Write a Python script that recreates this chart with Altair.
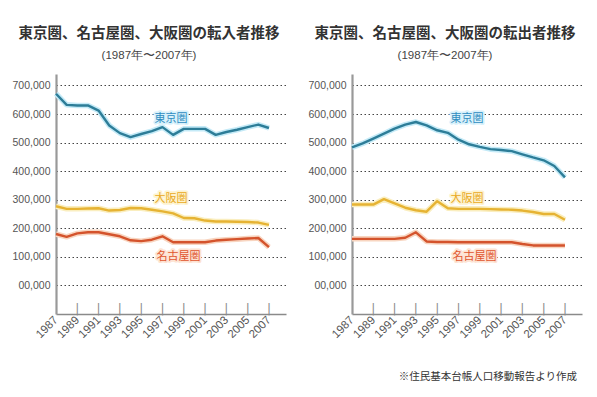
import altair as alt
import pandas as pd

years = [1987, 1988, 1989, 1990, 1991, 1992, 1993, 1994, 1995, 1996, 1997,
         1998, 1999, 2000, 2001, 2002, 2003, 2004, 2005, 2006, 2007]

# 転入者 (in-migrants), thousands
in_tokyo = [671, 632, 630, 630, 612, 560, 533, 519, 530, 540, 554, 527, 548, 548, 548, 527, 537, 545, 554, 563, 551]
in_osaka = [277, 268, 268, 269, 270, 262, 264, 271, 270, 265, 259, 252, 236, 235, 227, 224, 224, 223, 222, 220, 212]
in_nagoya = [180, 170, 182, 186, 186, 179, 172, 158, 155, 160, 172, 151, 151, 151, 151, 157, 160, 162, 164, 166, 134]

# 転出者 (out-migrants), thousands
out_tokyo = [483, 497, 514, 531, 549, 563, 572, 560, 543, 534, 510, 494, 485, 477, 474, 470, 459, 448, 438, 418, 378]
out_osaka = [283, 283, 283, 302, 287, 272, 263, 258, 295, 270, 268, 268, 268, 267, 266, 265, 262, 257, 250, 250, 230]
out_nagoya = [163, 163, 163, 163, 163, 167, 186, 154, 152, 152, 151, 151, 151, 151, 151, 151, 145, 140, 140, 140, 140]

tick_years = [1987, 1989, 1991, 1993, 1995, 1997, 1999, 2001, 2003, 2005, 2007]
inner_tick_years = [1989, 1991, 1993, 1995, 1997, 1999, 2001, 2003, 2005, 2007]
y_ticks = [0, 100000, 200000, 300000, 400000, 500000, 600000, 700000]

regions = ["東京圏", "大阪圏", "名古屋圏"]
line_colors = ["#2d7d98", "#e6b333", "#d4532c"]
halo_colors = ["#c4eaf7", "#faeebf", "#f8d5c0"]
text_colors = ["#2f8cc0", "#e9a923", "#e0552e"]
label_halo_colors = ["#d8f1fb", "#fdf3cf", "#fde3d3"]
label_years = [1997.8, 1997.8, 1998.5]
label_values = [583000, 303000, 100000]

titles = ["東京圏、名古屋圏、大阪圏の転入者推移", "東京圏、名古屋圏、大阪圏の転出者推移"]
subtitle = "(1987年〜2007年)"
footnote = "※住民基本台帳人口移動報告より作成"

FONT = "Noto Sans CJK JP"
W, H = 230, 240
Y_MIN, Y_MAX = -100000, 740000

x_scale = alt.Scale(domain=[1987, 2008.6], nice=False, zero=False)
y_scale = alt.Scale(domain=[Y_MIN, Y_MAX], nice=False, zero=False)
color_scale = alt.Scale(domain=regions, range=line_colors)
halo_scale = alt.Scale(domain=regions, range=halo_colors)
text_scale = alt.Scale(domain=regions, range=text_colors)
label_halo_scale = alt.Scale(domain=regions, range=label_halo_colors)

x_axis = alt.Axis(values=tick_years, format="d", title=None)
y_axis = alt.Axis(values=y_ticks, title=None,
                  labelExpr="datum.value == 0 ? '00,000' : format(datum.value, ',')")


def panel(series, title, with_footnote=False):
    rows = []
    for reg, vals in zip(regions, series):
        for yr, v in zip(years, vals):
            rows.append({"region": reg, "year": yr, "value": v * 1000})
    df = pd.DataFrame(rows)
    labels = pd.DataFrame({"region": regions, "year": label_years, "value": label_values})
    ticks = pd.DataFrame({"year": inner_tick_years, "mark": ["|"] * len(inner_tick_years)})

    base = alt.Chart(df).encode(
        x=alt.X("year:Q", scale=x_scale, axis=x_axis),
        y=alt.Y("value:Q", scale=y_scale, axis=y_axis),
    )
    halo = base.mark_line(strokeWidth=5.5, strokeJoin="round").encode(
        color=alt.Color("region:N", scale=halo_scale, legend=None))
    line = base.mark_line(strokeWidth=2.4, strokeJoin="round").encode(
        stroke=alt.Stroke("region:N", scale=color_scale, legend=None))

    tick_marks = alt.Chart(ticks).mark_text(
        font="DejaVu Sans", fontSize=12, align="center", baseline="bottom", dy=2
    ).encode(
        x=alt.X("year:Q", scale=x_scale, axis=x_axis),
        y=alt.value(H), text="mark:N", fill=alt.value("#8a8a8a"))

    lab_base = alt.Chart(labels).encode(
        x=alt.X("year:Q", scale=x_scale, axis=x_axis),
        y=alt.Y("value:Q", scale=y_scale, axis=y_axis), text="region:N")
    lab_halo = lab_base.mark_text(font=FONT, fontSize=11, strokeWidth=3.5, strokeJoin="round",
                                  align="center", baseline="middle").encode(
        stroke=alt.Stroke("region:N", scale=label_halo_scale, legend=None),
        fill=alt.value("#ffffff"))
    lab = lab_base.mark_text(font=FONT, fontSize=11, align="center", baseline="middle").encode(
        fill=alt.Fill("region:N", scale=text_scale, legend=None))

    layers = [halo, line, tick_marks, lab_halo, lab]
    if with_footnote:
        fn = alt.Chart(pd.DataFrame({"t": [footnote]})).mark_text(
            font=FONT, fontSize=10.5, color="#333", align="right", baseline="middle"
        ).encode(text="t:N", x=alt.value(W - 5), y=alt.value(H + 63))
        layers.append(fn)

    return alt.layer(*layers).resolve_scale(color="independent", stroke="independent",
                                           fill="independent").properties(
        width=W, height=H,
        title=alt.Title(title, subtitle=subtitle, font=FONT, fontSize=14.5, fontWeight="bold",
                        color="#333", subtitleFont="Liberation Sans", subtitleFontSize=11.5,
                        subtitleColor="#444", anchor="middle", frame="bounds",
                        offset=12, subtitlePadding=8),
    )


left = panel([in_tokyo, in_osaka, in_nagoya], titles[0])
right = panel([out_tokyo, out_osaka, out_nagoya], titles[1], with_footnote=True)

chart = alt.hconcat(left, right, spacing=22).properties(
    padding={"left": 4, "top": 18, "right": 5, "bottom": 5},
    background="white",
).configure_view(
    strokeWidth=0
).configure_axisX(
    labelAngle=-45, labelAlign="right", labelBaseline="middle", labelPadding=4,
    ticks=False, grid=False, labelOverlap=False, labelFlush=False,
    domainColor="#8a8a8a", domainWidth=1.5, labelColor="#555",
    labelFont="Liberation Sans", labelFontSize=11.5,
).configure_axisY(
    ticks=False, grid=True, gridDash=[1.5, 2.5], gridColor="#444", gridWidth=1,
    gridOpacity=1, labelOverlap=False, labelFlush=False,
    domainColor="#999", domainWidth=2.2, labelColor="#555",
    labelFont="Liberation Sans", labelFontSize=10.5, labelPadding=6,
)

chart.save("out.html", embed_options={"renderer": "svg", "actions": False})
